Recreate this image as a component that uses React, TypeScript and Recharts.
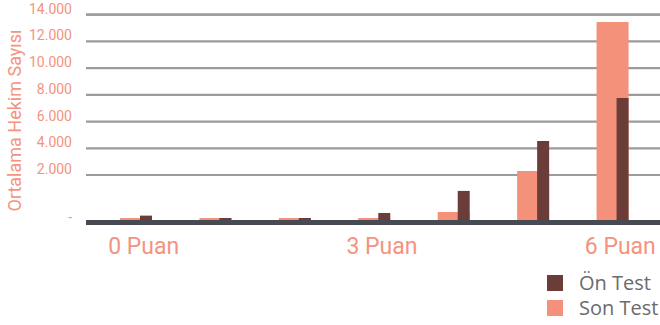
import { BarChart, Bar, XAxis, YAxis, CartesianGrid } from "recharts";

const categories = ["0 Puan", "1 Puan", "2 Puan", "3 Puan", "4 Puan", "5 Puan", "6 Puan"];
const onTest = [290, 190, 190, 400, 1330, 4550, 7760];
const sonTest = [190, 190, 190, 190, 440, 2300, 13450];
const yTicks = [0, 2000, 4000, 6000, 8000, 10000, 12000, 14000];

const ON_COLOR = "#6A3D38";
const SON_COLOR = "#F4917B";
const TEXT_COLOR = "#F4937E";

const data = categories.map((name, i) => ({ name, on: onTest[i], son: sonTest[i] }));

// the original axis gives the 0–2.000 step more room than the others
const BREAK_VALUE = 2000;
const BREAK_SHARE = 0.2286;

function stretchedScale(): any {
    let dom = [0, 1];
    let rng = [0, 1];
    const frac = (v: number) => {
        const [d0, d1] = dom;
        if (v <= BREAK_VALUE) return ((v - d0) / (BREAK_VALUE - d0)) * BREAK_SHARE;
        return BREAK_SHARE + ((v - BREAK_VALUE) / (d1 - BREAK_VALUE)) * (1 - BREAK_SHARE);
    };
    const scale: any = (v: any) => rng[0] + frac(Number(v)) * (rng[1] - rng[0]);
    scale.domain = (d?: any[]) => {
        if (d === undefined) return dom.slice();
        dom = d.map(Number);
        return scale;
    };
    scale.range = (r?: any[]) => {
        if (r === undefined) return rng.slice();
        rng = r.map(Number);
        return scale;
    };
    scale.copy = () => stretchedScale().domain(dom).range(rng);
    scale.ticks = () => yTicks;
    scale.tickFormat = () => (v: number) => String(v);
    scale.nice = () => scale;
    scale.clamp = () => scale;
    return scale;
}

const yScale = stretchedScale();

const formatThousands = (v: number) =>
    v === 0 ? "-" : String(v).replace(/\B(?=(\d{3})+(?!\d))/g, ".");

const YTick = ({ x, y, payload }: any) => (
    <text x={x} y={y - 1} textAnchor="end" fill={TEXT_COLOR} fontSize={14} fontFamily="Roboto">
        {formatThousands(payload.value)}
    </text>
);

const XTick = ({ x, y, payload }: any) => (
    <text x={x + 8} y={y + 31.5} textAnchor="middle" fill={TEXT_COLOR} fontSize={23} fontFamily="Roboto">
        {payload.value}
    </text>
);

const YTitle = () => (
    <text
        x={14}
        y={120.5}
        transform="rotate(-90, 14, 120.5)"
        textAnchor="middle"
        dominantBaseline="central"
        fill={TEXT_COLOR}
        fontSize={18}
        fontFamily="Roboto"
    >
        Ortalama Hekim Sayısı
    </text>
);

const legendItems = [
    { label: "Ön Test", color: ON_COLOR },
    { label: "Son Test", color: SON_COLOR },
];

export default function App() {
    return (
        <div style={{ position: "absolute", left: 0, top: 0, width: 660, height: 325, background: "#fff" }}>
            <BarChart
                width={660}
                height={325}
                data={data}
                barGap={-12}
                margin={{ top: 14.7, right: 0, bottom: 72.5, left: 0 }}
            >
                <CartesianGrid vertical={false} stroke="#9B9B9B" strokeWidth={2.2} />
                <YAxis
                    type="number"
                    scale={yScale}
                    domain={[0, 14000]}
                    ticks={yTicks}
                    interval={0}
                    width={86}
                    axisLine={false}
                    tickLine={false}
                    tickSize={0}
                    tickMargin={14}
                    tick={<YTick />}
                    label={() => <YTitle />}
                />
                <Bar dataKey="son" name="Son Test" fill={SON_COLOR} barSize={32} isAnimationActive={false} />
                <Bar dataKey="on" name="Ön Test" fill={ON_COLOR} barSize={12} isAnimationActive={false} />
                <XAxis
                    dataKey="name"
                    height={30}
                    interval={2}
                    padding={{ left: 10, right: 8 }}
                    axisLine={{ stroke: "#474A52", strokeWidth: 5 }}
                    tickLine={false}
                    tickSize={0}
                    tickMargin={0}
                    tick={<XTick />}
                />
            </BarChart>
            {legendItems.map((item, i) => (
                <div
                    key={item.label}
                    style={{
                        position: "absolute",
                        left: 547,
                        top: 275 + i * 25,
                        display: "flex",
                        alignItems: "center",
                        fontFamily: "'Open Sans'",
                        fontSize: 20,
                        color: "#6B6B6B",
                        lineHeight: "16px",
                        whiteSpace: "nowrap",
                    }}
                >
                    <span style={{ width: 16, height: 16, background: item.color, marginRight: 16 }} />
                    <span>{item.label}</span>
                </div>
            ))}
        </div>
    );
}
